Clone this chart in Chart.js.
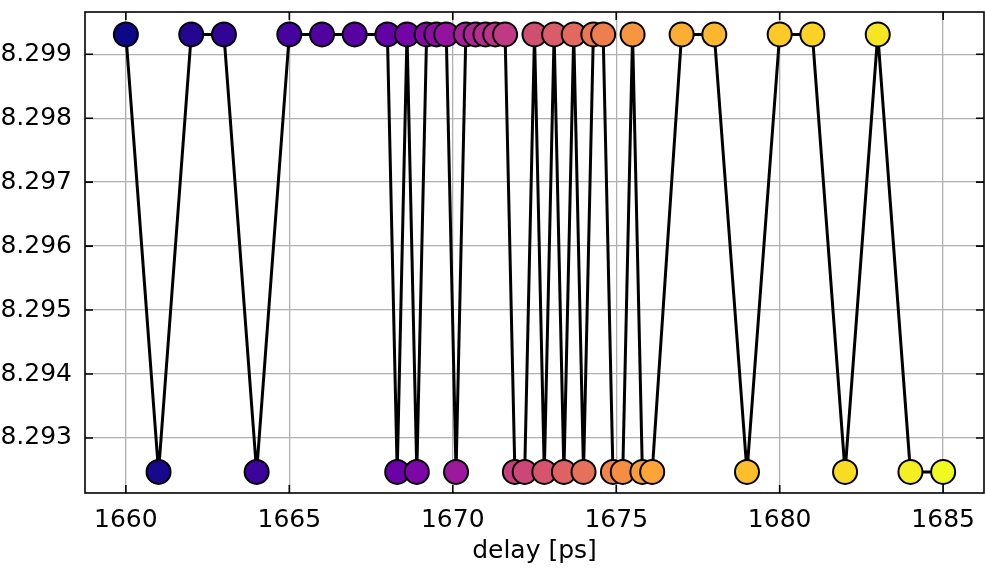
<!DOCTYPE html>
<html>
<head>
<meta charset="utf-8">
<script src="https://cdn.jsdelivr.net/npm/chart.js@4"></script>
<style>
  html, body { margin: 0; padding: 0; background: #fff; }
  #wrap { width: 985px; height: 571px; }
</style>
</head>
<body>
<div id="wrap"><canvas id="chart"></canvas></div>
<script>
const HI = 8.29931;
const LO = 8.29247;

const delays = [
  1660, 1661, 1662, 1663, 1664, 1665, 1666, 1667,
  1668, 1668.3, 1668.6, 1668.9, 1669.2, 1669.5, 1669.8, 1670.1,
  1670.4, 1670.7, 1671.0, 1671.3, 1671.6, 1671.9, 1672.2, 1672.5,
  1672.8, 1673.1, 1673.4, 1673.7, 1674.0, 1674.3, 1674.6, 1674.9,
  1675.2, 1675.5, 1675.8, 1676.1,
  1677, 1678, 1679, 1680, 1681, 1682, 1683, 1684, 1685
];
const values = [
  HI, LO, HI, HI, LO, HI, HI, HI,
  HI, LO, HI, LO, HI, HI, HI, LO,
  HI, HI, HI, HI, HI, LO, LO, HI,
  LO, HI, LO, HI, LO, HI, HI, LO,
  LO, HI, LO, LO,
  HI, HI, LO, HI, HI, LO, HI, LO, LO
];
const xTicks = [1660, 1665, 1670, 1675, 1680, 1685];
const yTicks = [8.293, 8.294, 8.295, 8.296, 8.297, 8.298, 8.299];

// plasma colormap anchors
const plasma = ['#0d0887', '#41049d', '#6a00a8', '#8f0da4', '#b12a90', '#cc4778',
                '#e16462', '#f2844b', '#fca636', '#fcce25', '#f0f921'];

function hexToRgb(h) {
  return [parseInt(h.slice(1, 3), 16), parseInt(h.slice(3, 5), 16), parseInt(h.slice(5, 7), 16)];
}
function plasmaColor(t) {
  const p = t * (plasma.length - 1);
  const i = Math.min(Math.floor(p), plasma.length - 2);
  const f = p - i;
  const a = hexToRgb(plasma[i]), b = hexToRgb(plasma[i + 1]);
  const c = a.map((v, k) => Math.round(v + (b[k] - v) * f));
  return 'rgb(' + c.join(',') + ')';
}

const points = delays.map((d, i) => ({ x: d, y: values[i] }));
const colors = delays.map((d, i) => plasmaColor(i / (delays.length - 1)));

const FONT = { family: 'DejaVu Sans', size: 25 };

// frame and inward ticks on all four sides
const frameTicks = {
  id: 'frameTicks',
  afterDraw(chart) {
    const { ctx, chartArea: a, scales } = chart;
    const len = 8;
    ctx.save();
    ctx.strokeStyle = '#000';
    ctx.lineWidth = 1.6;
    ctx.beginPath();
    xTicks.forEach(v => {
      const px = scales.x.getPixelForValue(v);
      ctx.moveTo(px, a.bottom); ctx.lineTo(px, a.bottom - len);
      ctx.moveTo(px, a.top); ctx.lineTo(px, a.top + len);
    });
    yTicks.forEach(v => {
      const py = scales.y.getPixelForValue(v);
      ctx.moveTo(a.left, py); ctx.lineTo(a.left + len, py);
      ctx.moveTo(a.right, py); ctx.lineTo(a.right - len, py);
    });
    ctx.stroke();
    ctx.strokeRect(a.left, a.top, a.right - a.left, a.bottom - a.top);
    ctx.restore();
  }
};

new Chart(document.getElementById('chart'), {
  type: 'scatter',
  data: {
    datasets: [{
      data: points,
      showLine: true,
      borderColor: '#000',
      borderWidth: 3,
      pointRadius: 12,
      pointHoverRadius: 12,
      pointBackgroundColor: colors,
      pointBorderColor: '#000',
      pointBorderWidth: 2,
      clip: false
    }]
  },
  options: {
    responsive: true,
    maintainAspectRatio: false,
    animation: false,
    layout: { autoPadding: false, padding: { top: 12, right: 1, left: 0, bottom: 0 } },
    plugins: { legend: { display: false }, tooltip: { enabled: false } },
    scales: {
      x: {
        type: 'linear',
        min: 1658.75,
        max: 1686.25,
        afterBuildTicks: s => { s.ticks = xTicks.map(v => ({ value: v })); },
        afterFit: s => { s.height = 78; s.paddingLeft = 0; s.paddingRight = 0; },
        grid: { color: '#b0b0b0', lineWidth: 1.3, drawTicks: false },
        border: { display: false },
        ticks: { font: FONT, color: '#000', padding: 12, maxRotation: 0,
                 callback: v => String(v) },
        title: { display: true, text: 'delay [ps]', font: FONT, color: '#000',
                 padding: { top: 0, bottom: 5 } }
      },
      y: {
        type: 'linear',
        min: 8.29214,
        max: 8.29966,
        afterBuildTicks: s => { s.ticks = yTicks.map(v => ({ value: v })); },
        afterFit: s => { s.width = 85; s.paddingTop = 0; s.paddingBottom = 0; },
        grid: { color: '#b0b0b0', lineWidth: 1.3, drawTicks: false },
        border: { display: false },
        ticks: { font: FONT, color: '#000', padding: 13,
                 callback: v => v.toFixed(3) }
      }
    }
  },
  plugins: [frameTicks]
});
</script>
</body>
</html>
